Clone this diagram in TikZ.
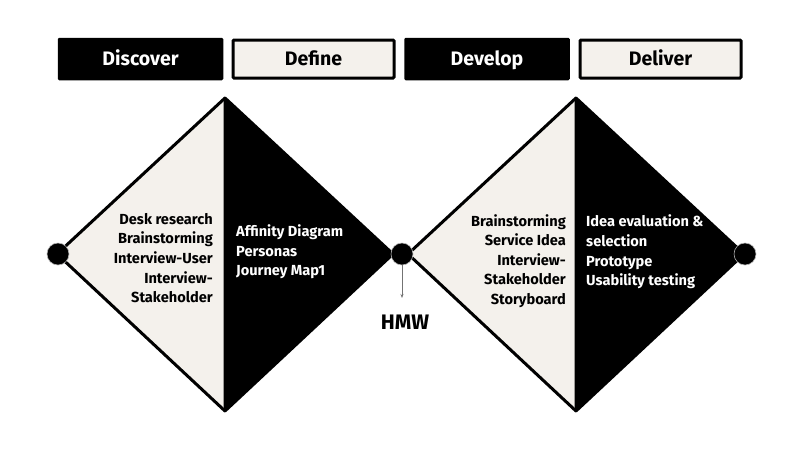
\documentclass[tikz,border=0pt]{standalone}
\usepackage{fontspec}
\setmainfont{Fira Sans}
\usetikzlibrary{arrows.meta}
\definecolor{paper}{HTML}{F4F1EC}
\tikzset{
  hdrdark/.style={draw=black, fill=black, line width=1.5pt, rounded corners=1pt, minimum width=164pt, minimum height=41pt, text=white, font=\bfseries\fontsize{19.5}{22}\selectfont, inner sep=0pt, text height=13pt, text depth=0pt},
  hdrlight/.style={draw=black, fill=paper, line width=3pt, rounded corners=1pt, minimum width=161pt, minimum height=38pt, text=black, font=\bfseries\fontsize{19.5}{22}\selectfont, inner sep=0pt, text height=13pt, text depth=0pt},
  dot/.style={circle, fill=black, draw=black!30, line width=0.6pt, minimum size=22pt, inner sep=0pt},
  txtdark/.style={text=black, font=\bfseries\fontsize{14.6}{19.6}\selectfont, align=right, inner sep=0pt},
  txtlight/.style={text=white, font=\bfseries\fontsize{14.6}{19.6}\selectfont, align=left, inner sep=0pt},
  edge/.style={draw=black, line width=3pt, line join=round},
}
\begin{document}
\begin{tikzpicture}[x=1pt,y=-1pt]
\useasboundingbox (0,0) rectangle (798,448);
\fill[white] (0,0) rectangle (798,448);
% headers
\node[hdrdark]  (discover) at (140.5,59) {Discover};
\node[hdrlight] (define)   at (313.5,59) {Define};
\node[hdrdark]  (develop)  at (487,59) {Develop};
\node[hdrlight] (deliver)  at (660.5,59) {Deliver};
% diamond 1
\coordinate (aL) at (57,254);
\coordinate (aT) at (225,98);
\coordinate (aR) at (393,254);
\coordinate (aB) at (225,411);
\fill[black] (aT) -- (aR) -- (aB) -- cycle;
\fill[paper] (aL) -- (aT) -- (aB) -- cycle;
\draw[edge] (aT) -- (aL) -- (aB);
\draw[edge] (aT) -- (aR) -- (aB) -- cycle;
% diamond 2
\coordinate (bL) at (408,254);
\coordinate (bT) at (576,98);
\coordinate (bR) at (744,254);
\coordinate (bB) at (576,411);
\fill[black] (bT) -- (bR) -- (bB) -- cycle;
\fill[paper] (bL) -- (bT) -- (bB) -- cycle;
\draw[edge] (bT) -- (bL) -- (bB);
\draw[edge] (bT) -- (bR) -- (bB) -- cycle;
% dots
\node[dot] (d1) at (58,254) {};
\node[dot] (d2) at (402,254) {};
\node[dot] (d3) at (745,254) {};
% texts
\node[txtdark, anchor=east] (t1) at (213,258) {Desk research\\Brainstorming\\Interview-User\\Interview-\\Stakeholder};
\node[txtlight, anchor=west] (t2) at (236,252) {Affinity Diagram\\Personas\\Journey Map1};
\node[txtdark, anchor=east] (t3) at (566,261) {Brainstorming\\Service Idea\\Interview-\\Stakeholder\\Storyboard};
\node[txtlight, anchor=west] (t4) at (586,252) {Idea evaluation \&\\selection\\Prototype\\Usability testing};
% HMW
\node[font=\bfseries\fontsize{21}{24}\selectfont, inner sep=0pt] (hmw) at (405,322) {HMW};
\coordinate (arrend) at (402,298);
\draw[draw=black!55, line width=0.7pt, -{Stealth[length=4pt,width=3pt]}] (d2.south) -- (arrend);
\end{tikzpicture}
\end{document}
